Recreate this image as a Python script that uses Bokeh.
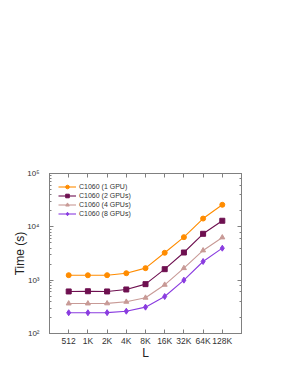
from bokeh.plotting import figure
from bokeh.models import FactorRange, LogAxis, CategoricalAxis, Legend, LegendItem, Range1d
from bokeh.embed import file_html
from bokeh.resources import INLINE

sizes = ["512", "1K", "2K", "4K", "8K", "16K", "32K", "64K", "128K"]
gpu1 = [1240, 1235, 1240, 1350, 1680, 3260, 6400, 14300, 25900]
gpu2 = [614, 620, 614, 669, 842, 1607, 3300, 7400, 13000]
gpu4 = [365, 365, 367, 393, 468, 819, 1680, 3610, 6320]
gpu8 = [245, 245, 246, 262, 312, 494, 1000, 2240, 3980]
series_names = ["C1060 (1 GPU)", "C1060 (2 GPUs)", "C1060 (4 GPUs)", "C1060 (8 GPUs)"]
colors = ["#ff8c00", "#6e1050", "#c89a96", "#8a3ce0"]
markers = ["circle", "square", "triangle", "diamond"]
y_ticks = {100: "10²", 1000: "10³", 10000: "10⁴", 100000: "10⁵"}

FONT = "Liberation Sans"

p = figure(width=283, height=368, output_backend="svg", toolbar_location=None,
           x_range=FactorRange(*sizes, range_padding=0.5, range_padding_units="absolute"),
           y_range=Range1d(100, 100000), y_axis_type="log")
p.min_border_left = 49
p.min_border_right = 42
p.min_border_top = 173
p.min_border_bottom = 35
p.background_fill_color = "white"
p.border_fill_color = "white"
p.outline_line_color = "#808080"
p.outline_line_width = 1
p.xgrid.visible = False
p.ygrid.visible = False

for ax in [p.xaxis[0], p.yaxis[0]]:
    ax.axis_line_color = "#808080"
    ax.major_tick_line_color = "#808080"
    ax.minor_tick_line_color = "#808080"
    ax.major_tick_in = 4
    ax.major_tick_out = 0
    ax.minor_tick_in = 2
    ax.minor_tick_out = 0
    ax.major_label_text_font = FONT
    ax.major_label_text_color = "#333333"
    ax.axis_label_text_font = FONT
    ax.axis_label_text_font_style = "normal"
    ax.axis_label_text_color = "#222222"
    ax.axis_label_text_font_size = "12px"

p.xaxis[0].major_label_text_font_size = "8.5px"
p.xaxis[0].major_label_standoff = 2
p.xaxis[0].axis_label = "L"
p.xaxis[0].axis_label_standoff = -3
p.yaxis[0].major_label_text_font_size = "8px"
p.yaxis[0].major_label_overrides = y_ticks
p.yaxis[0].major_label_standoff = 10
p.yaxis[0].axis_label = "Time (s)"
p.yaxis[0].axis_label_standoff = -3

right = LogAxis()
top = CategoricalAxis()
for ax in [right, top]:
    ax.axis_line_color = "#808080"
    ax.major_tick_line_color = "#808080"
    ax.minor_tick_line_color = "#808080"
    ax.major_tick_in = 4
    ax.major_tick_out = 0
    ax.minor_tick_in = 2
    ax.minor_tick_out = 0
    ax.major_label_text_font_size = "1px"
    ax.major_label_text_color = None
    ax.major_label_text_alpha = 0
    ax.major_label_standoff = 0
p.add_layout(right, "right")
p.add_layout(top, "above")

items = []
for name, vals, c, m in zip(series_names, [gpu1, gpu2, gpu4, gpu8], colors, markers):
    r1 = p.line(sizes, vals, line_color=c, line_width=1.1)
    r2 = p.scatter(sizes, vals, marker=m, size=5 if m != "diamond" else 6,
                   fill_color=c, line_color=c)
    items.append(LegendItem(label=name, renderers=[r1, r2]))

leg = Legend(items=items, location="top_left")
leg.margin = 4
leg.padding = 5
leg.spacing = 0
leg.label_height = 9
leg.glyph_height = 9
leg.glyph_width = 18
leg.label_standoff = 3
leg.label_text_font = FONT
leg.label_text_font_size = "7px"
leg.label_text_color = "#333333"
leg.background_fill_alpha = 0
leg.border_line_alpha = 0
p.add_layout(leg, "center")

open("out.html", "w").write(file_html(p, INLINE))
